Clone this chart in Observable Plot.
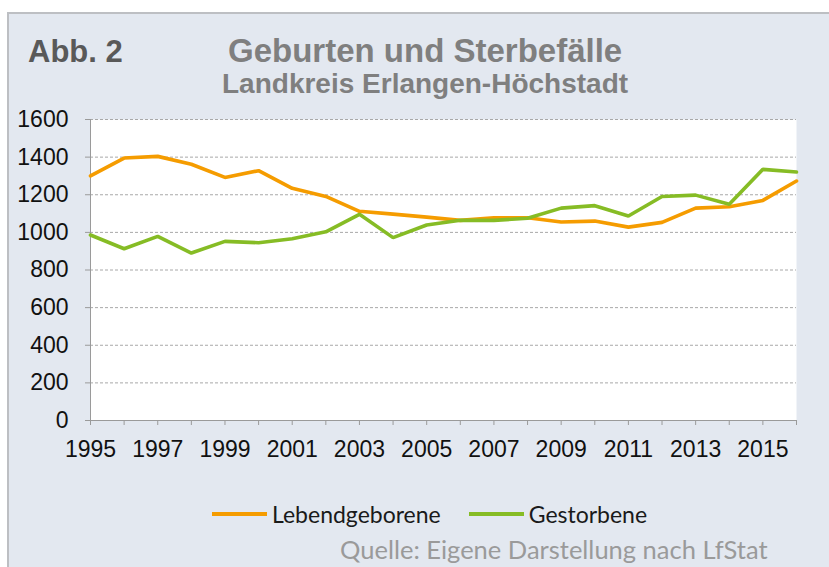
<!DOCTYPE html>
<html>
<head>
<meta charset="utf-8">
<script src="https://cdn.jsdelivr.net/npm/d3@7"></script>
<script src="https://cdn.jsdelivr.net/npm/@observablehq/plot@0.6"></script>
<style>
  html, body { margin: 0; padding: 0; background: #fff; }
  #wrap { position: relative; width: 829px; height: 567px; overflow: hidden; background: #fff; }
  #panel { position: absolute; left: 7px; top: 12px; right: -10px; bottom: -10px;
    background: #e3e8f0; border-left: 2px solid #bdbfc3; border-top: 2px solid #bdbfc3; }
  .t { position: absolute; font-family: "Liberation Sans", Arial, sans-serif; font-weight: bold; white-space: nowrap; line-height: 1; }
  #abb { left: 28px; top: 36px; font-size: 31px; color: #595959; }
  #title { left: 228px; top: 34px; font-size: 33px; color: #7f7f7f; }
  #sub { left: 222px; top: 70px; font-size: 28px; color: #7f7f7f; }
  #chart { position: absolute; left: 0; top: 100px; }
  #legend { position: absolute; left: 212px; top: 496px; font-family: "Lato", "Open Sans", sans-serif; font-size: 23px; line-height: 1; color: #1a1a1a; white-space: nowrap; }
  #legend .item { display: inline-flex; align-items: center; margin-right: 28px; }
  #legend .sw { display: inline-block; width: 55px; height: 4px; margin-right: 5px; }
  #caption { position: absolute; left: 340px; top: 537px; font-family: "Lato", "Open Sans", sans-serif; font-size: 25.5px; line-height: 1; color: #9a9a9a; white-space: nowrap; }
</style>
</head>
<body>
<div id="wrap">
  <div id="panel"></div>
  <div class="t" id="abb">Abb. 2</div>
  <div class="t" id="title">Geburten und Sterbefälle</div>
  <div class="t" id="sub">Landkreis Erlangen-Höchstadt</div>
  <div id="chart"></div>
  <div id="legend"></div>
  <div id="caption">Quelle: Eigene Darstellung nach LfStat</div>
</div>
<script>
const years = d3.range(1995, 2017);
const lebendgeborene = [1300, 1395, 1404, 1362, 1292, 1328, 1234, 1191, 1112, 1097, 1081, 1064, 1078, 1078, 1055, 1060, 1028, 1053, 1129, 1136, 1170, 1273];
const gestorbene = [986, 913, 979, 890, 952, 945, 966, 1003, 1096, 972, 1039, 1064, 1064, 1075, 1129, 1142, 1087, 1191, 1198, 1149, 1335, 1321];
const seriesNames = ["Lebendgeborene", "Gestorbene"];
const seriesColors = ["#f59c00", "#86bc25"];
const yTicks = d3.range(0, 1601, 200);
const xLabelTicks = d3.range(1995, 2016, 2);

const data = [];
years.forEach((y, i) => {
  data.push({year: y, value: lebendgeborene[i], series: seriesNames[0]});
  data.push({year: y, value: gestorbene[i], series: seriesNames[1]});
});

const chart = Plot.plot({
  width: 829,
  height: 380,
  marginLeft: 90,
  marginRight: 33,
  marginTop: 19,
  marginBottom: 60,
  style: {background: "transparent", fontFamily: "Liberation Sans, Arial, sans-serif"},
  x: {domain: [1995, 2016]},
  y: {domain: [0, 1600]},
  color: {domain: seriesNames, range: seriesColors},
  marks: [
    Plot.frame({fill: "white", stroke: null}),
    Plot.gridY(yTicks, {stroke: "#a8a8a8", strokeOpacity: 1, strokeDasharray: "3,2", strokeWidth: 1}),
    Plot.axisY(yTicks, {tickSize: 5, tickPadding: 17, stroke: "#9a9a9a", fontSize: 23, fill: "#111", tickFormat: d => String(d), label: null}),
    Plot.axisX(years, {tickSize: 5, tickFormat: () => "", stroke: "#9a9a9a", label: null}),
    Plot.axisX(xLabelTicks, {tickSize: 0, tickPadding: 20, tickFormat: d => String(d), fontSize: 23, fill: "#111", label: null}),
    Plot.ruleX([1995], {stroke: "#9a9a9a"}),
    Plot.ruleY([0], {stroke: "#9a9a9a"}),
    Plot.line(data, {x: "year", y: "value", stroke: "series", strokeWidth: 3.6, strokeLinejoin: "miter"})
  ]
});
document.getElementById("chart").appendChild(chart);

const legend = document.getElementById("legend");
seriesNames.forEach((n, i) => {
  const item = document.createElement("span");
  item.className = "item";
  const sw = document.createElement("span");
  sw.className = "sw";
  sw.style.background = seriesColors[i];
  item.appendChild(sw);
  item.appendChild(document.createTextNode(n));
  legend.appendChild(item);
});
</script>
</body>
</html>
